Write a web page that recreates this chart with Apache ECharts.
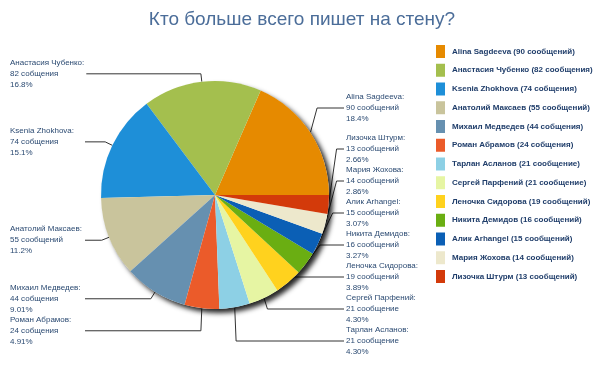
<!DOCTYPE html>
<html>
<head>
<meta charset="utf-8">
<script src="https://cdn.jsdelivr.net/npm/echarts@6/dist/echarts.min.js"></script>
<style>
  html, body { margin: 0; padding: 0; background: #fff; }
  #chart { width: 604px; height: 377px; }
</style>
</head>
<body>
<div id="chart"></div>
<script>
// данные
var names = ['Alina Sagdeeva', 'Анастасия Чубенко', 'Ksenia Zhokhova', 'Анатолий Максаев',
  'Михаил Медведев', 'Роман Абрамов', 'Тарлан Асланов', 'Сергей Парфений',
  'Леночка Сидорова', 'Никита Демидов', 'Алик Arhangel', 'Мария Жохова', 'Лизочка Штурм']
var values = [90, 82, 74, 55, 44, 24, 21, 21, 19, 16, 15, 14, 13]
// подписи у секторов и в легенде (в оригинале слова разные)
var labelWords = ['сообщений', 'собщения', 'собщения', 'сообщений', 'собщения', 'собщения',
  'сообщение', 'сообщение', 'сообщений', 'сообщений', 'сообщений', 'сообщений', 'сообщений']
var legendWords = ['сообщений', 'сообщения', 'собщения', 'сообщений', 'собщения', 'собщения',
  'сообщение', 'сообщение', 'сообщений', 'сообщений', 'сообщений', 'сообщений', 'сообщений']
var colors = ['#e68a00', '#a4bf4e', '#1e8fd8', '#c9c49c', '#6690b0', '#eb5b2a', '#8dd0e5',
  '#e6f5a3', '#ffd21e', '#6aae12', '#0b5fb5', '#ede8cc', '#d33a0a']
var title = 'Кто больше всего пишет на стену?'

var total = values.reduce(function (a, b) { return a + b }, 0)

// проценты: 3 значащие цифры, с отбрасыванием
function pct(v) {
  var p = v / total * 100
  var d = p >= 10 ? 1 : 2
  var k = Math.pow(10, d)
  return (Math.floor(p * k + 1e-9) / k).toFixed(d)
}

var pieData = names.map(function (n, i) {
  return { name: n, value: values[i], itemStyle: { color: colors[i] } }
})

var myChart = echarts.init(document.getElementById('chart'))

var options = {
  animation: false,
  title: {
    text: title,
    left: 'center',
    top: 5,
    textStyle: {
      fontFamily: 'Liberation Sans',
      fontSize: 19,
      fontWeight: 'normal',
      color: '#4b6d99'
    }
  },
  legend: {
    orient: 'vertical',
    left: 431,
    top: 40,
    itemWidth: 9,
    itemHeight: 13,
    itemGap: 5.75,
    icon: 'rect',
    data: names,
    formatter: function (name) {
      var i = names.indexOf(name)
      return name + ' (' + values[i] + ' ' + legendWords[i] + ')'
    },
    textStyle: {
      fontFamily: 'Liberation Sans',
      fontSize: 8,
      fontWeight: 'bold',
      color: '#1f3d6a',
      padding: [0, 0, 0, 2]
    },
    selectedMode: false
  },
  series: [
    {
      // подложка с тенью
      type: 'pie',
      name: 'shadow',
      silent: true,
      left: 0,
      top: 0,
      width: 429,
      height: 357,
      center: [215, 195],
      radius: 114,
      label: { show: false },
      labelLine: { show: false },
      itemStyle: {
        color: '#ffffff',
        shadowBlur: 5,
        shadowOffsetX: 4,
        shadowOffsetY: 4,
        shadowColor: 'rgba(0,0,0,0.85)'
      },
      data: [{ name: '', value: 1 }]
    },
    {
      type: 'pie',
      name: 'posts',
      left: 0,
      top: 0,
      width: 429,
      height: 357,
      center: [215, 195],
      radius: 114,
      startAngle: 0,
      clockwise: false,
      silent: true,
      itemStyle: { borderWidth: 0 },
      label: {
        show: true,
        position: 'outside',
        alignTo: 'edge',
        edgeDistance: 10,
        distanceToLabelLine: 2,
        formatter: function (p) {
          var i = p.dataIndex
          return '{a|' + names[i] + ':}\n{a|' + values[i] + ' ' + labelWords[i] + '}\n{a|' + pct(values[i]) + '%}'
        },
        rich: {
          a: {
            align: 'left',
            width: 73,
            fontFamily: 'Liberation Sans',
            fontSize: 8,
            lineHeight: 11,
            color: '#2b4a72'
          }
        }
      },
      labelLine: {
        show: true,
        length: 8,
        length2: 5,
        lineStyle: { color: '#333', width: 1 }
      },
      data: pieData
    }
  ]
}

myChart.setOption(options)
</script>
</body>
</html>
